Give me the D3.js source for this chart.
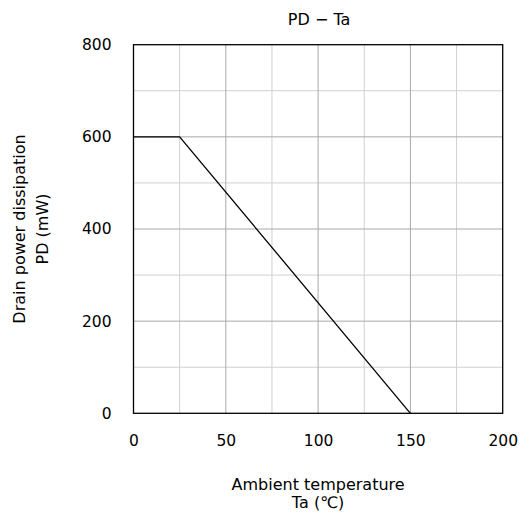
<!DOCTYPE html>
<html><head><meta charset="utf-8">
<script src="https://cdn.jsdelivr.net/npm/d3@7"></script>
<style>body{margin:0;background:#fff}svg{display:block}text{font-family:"DejaVu Sans",sans-serif;fill:#000}</style>
</head><body>
<script>
const tempValues = [0, 25, 150];
const powerValues = [600, 600, 0];
const xTicks = [0, 50, 100, 150, 200];
const yTicks = [0, 200, 400, 600, 800];
const xMinor = [25, 75, 125, 175];
const yMinor = [100, 300, 500, 700];
const title = "PD − Ta";
const xTitle = ["Ambient temperature", "Ta (℃)"];
const yTitle = ["Drain power dissipation", "PD (mW)"];

const W = 519, H = 517;
const FONT = '"DejaVu Sans",sans-serif';
const m = {l: 133.5, t: 44.7, r: 519 - 502.7, b: 517 - 413.3};
const svg = d3.select("body").append("svg").attr("width", W).attr("height", H);
const x = d3.scaleLinear().domain([0, 200]).range([m.l, W - m.r]);
const y = d3.scaleLinear().domain([0, 800]).range([H - m.b, m.t]);

const g = svg.append("g");
g.selectAll(".vx").data(xMinor).join("line").attr("x1", d => x(d)).attr("x2", d => x(d))
  .attr("y1", y(0)).attr("y2", y(800)).attr("stroke", "#d0d0d0").attr("stroke-width", 1);
g.selectAll(".hy").data(yMinor).join("line").attr("y1", d => y(d)).attr("y2", d => y(d))
  .attr("x1", x(0)).attr("x2", x(200)).attr("stroke", "#d0d0d0").attr("stroke-width", 1);
g.selectAll(".vX").data(xTicks.slice(1, -1)).join("line").attr("x1", d => x(d)).attr("x2", d => x(d))
  .attr("y1", y(0)).attr("y2", y(800)).attr("stroke", "#a8a8a8").attr("stroke-width", 1);
g.selectAll(".hY").data(yTicks.slice(1, -1)).join("line").attr("y1", d => y(d)).attr("y2", d => y(d))
  .attr("x1", x(0)).attr("x2", x(200)).attr("stroke", "#a8a8a8").attr("stroke-width", 1);

svg.append("rect").attr("x", x(0)).attr("y", y(800)).attr("width", x(200) - x(0)).attr("height", y(0) - y(800))
  .attr("fill", "none").attr("stroke", "#000").attr("stroke-width", 1.3);

const xa = svg.append("g").attr("transform", `translate(0,${y(0)})`)
  .call(d3.axisBottom(x).tickValues(xTicks).tickSize(0).tickPadding(22));
xa.select(".domain").remove();
xa.selectAll("text").attr("font-size", 15.5).style("font-family", FONT);
const ya = svg.append("g").attr("transform", `translate(${x(0)},0)`)
  .call(d3.axisLeft(y).tickValues(yTicks).tickSize(0).tickPadding(22));
ya.select(".domain").remove();
ya.selectAll("text").attr("font-size", 15.5).style("font-family", FONT);

const pts = tempValues.map((t, i) => [t, powerValues[i]]);
svg.append("path").datum(pts)
  .attr("d", d3.line().x(d => x(d[0])).y(d => y(d[1])))
  .attr("fill", "none").attr("stroke", "#000").attr("stroke-width", 1.3);

svg.append("text").attr("x", x(100) + 1).attr("y", 25).attr("text-anchor", "middle").attr("font-size", 16).text(title);

const xt = svg.append("text").attr("text-anchor", "middle").attr("font-size", 16);
xTitle.forEach((t, i) => xt.append("tspan").attr("x", x(100)).attr("y", 490 + i * 18).text(t));

const cy = (y(0) + y(800)) / 2;
const yt = svg.append("text").attr("transform", `translate(0,${cy}) rotate(-90)`)
  .attr("text-anchor", "middle").attr("font-size", 16);
yTitle.forEach((t, i) => yt.append("tspan").attr("x", 0).attr("y", 25 + i * 23).text(t));
</script>
</body></html>
